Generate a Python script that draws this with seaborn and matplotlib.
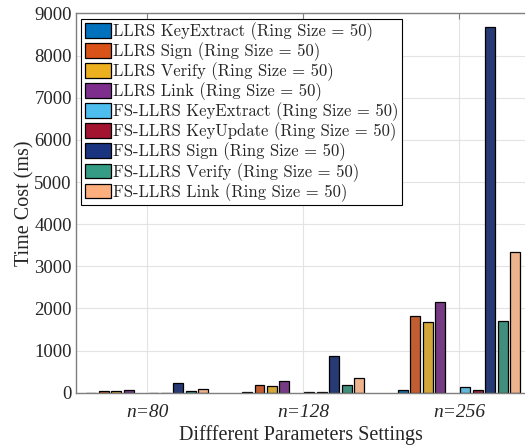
"Time cost of LLRS / FS-LLRS operations for different parameter settings"

import pandas as pd
import matplotlib.pyplot as plt
import seaborn as sns
from matplotlib.patches import Patch

# settings on the x axis
settings = ['n=80', 'n=128', 'n=256']

# series names (legend order) and time cost in ms for n=80, n=128, n=256
series = [
    'LLRS KeyExtract (Ring Size = 50)',
    'LLRS Sign (Ring Size = 50)',
    'LLRS Verify (Ring Size = 50)',
    'LLRS Link (Ring Size = 50)',
    'FS-LLRS KeyExtract (Ring Size = 50)',
    'FS-LLRS KeyUpdate (Ring Size = 50)',
    'FS-LLRS Sign (Ring Size = 50)',
    'FS-LLRS Verify (Ring Size = 50)',
    'FS-LLRS Link (Ring Size = 50)',
]
llrs_keyextract = [5, 10, 63]
llrs_sign = [48, 183, 1810]
llrs_verify = [35, 159, 1667]
llrs_link = [60, 278, 2160]
fs_keyextract = [5, 10, 127]
fs_keyupdate = [3, 10, 55]
fs_sign = [222, 873, 8690]
fs_verify = [35, 183, 1707]
fs_link = [85, 349, 3343]

colors = ['#0072BD', '#D95319', '#EDB120', '#7E2F8E', '#4DBEEE',
          '#A2142F', '#1B3480', '#349B84', '#FDB07D']

values = [llrs_keyextract, llrs_sign, llrs_verify, llrs_link,
          fs_keyextract, fs_keyupdate, fs_sign, fs_verify, fs_link]

# the original figure has an empty slot in the middle of each group
gap_name = ' '
rows = []
for name, vals in zip(series, values):
    for s, v in zip(settings, vals):
        rows.append({'setting': s, 'series': name, 'time': v})
df = pd.DataFrame(rows)

order = series[:4] + [gap_name] + series[4:]
palette = dict(zip(series, colors))
palette[gap_name] = 'white'

sns.set_style('white')
plt.rcParams['font.family'] = ['Liberation Serif', 'DejaVu Serif']

fig = plt.figure(figsize=(5.25, 4.48), dpi=100)
ax = fig.add_axes([0.1448, 0.1234, 0.8552, 0.8466])

sns.barplot(data=df, x='setting', y='time', hue='series', hue_order=order,
            order=settings, palette=palette, width=0.8, gap=0.2,
            edgecolor='black', linewidth=0.9, legend=False, ax=ax)

ax.set_ylim(0, 9000)
ax.set_yticks(range(0, 9001, 1000))
ax.set_xlim(-0.457, 2.423)
ax.grid(True, color='#e3e3e3', linewidth=0.8)
ax.set_axisbelow(True)
for side in ['left', 'bottom', 'top']:
    ax.spines[side].set_color('#7f7f7f')
    ax.spines[side].set_linewidth(1.0)
ax.spines['right'].set_visible(False)
ax.tick_params(direction='in', length=4, color='#7f7f7f', top=True,
               labelsize=13.5, pad=3)
ax.tick_params(axis='x', pad=8)
ax.set_xticks(range(len(settings)))
ax.set_xticklabels(settings, fontstyle='italic', fontsize=14)
for lab in ax.get_yticklabels():
    lab.set_color('#262626')

ax.set_xlabel('Diffferent Parameters Settings', fontsize=14.5, labelpad=3)
ax.set_ylabel('Time Cost (ms)', fontsize=14.5, labelpad=0)

handles = [Patch(facecolor=c, edgecolor='black', linewidth=0.9) for c in colors]
leg = ax.legend(handles, series, loc='upper left', bbox_to_anchor=(0.012, 0.985),
                prop={'family': 'cmr10', 'size': 12}, frameon=True,
                fancybox=False, edgecolor='black', framealpha=1,
                handlelength=1.6, handleheight=1.0, handletextpad=0.1,
                labelspacing=0.08, borderpad=0.2, borderaxespad=0.0)
leg.get_frame().set_linewidth(0.8)

plt.savefig('out.png', dpi=100)
